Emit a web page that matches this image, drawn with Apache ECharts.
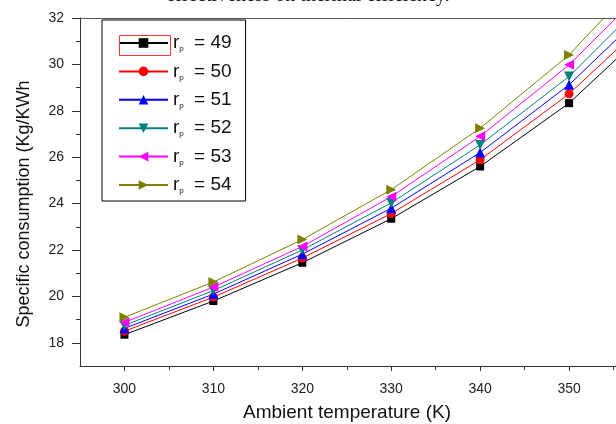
<!DOCTYPE html>
<html>
<head>
<meta charset="utf-8">
<script src="https://cdn.jsdelivr.net/npm/echarts@6/dist/echarts.min.js"></script>
<style>
html,body{margin:0;padding:0;background:#fff;overflow:hidden;}
#c{width:616px;height:424px;}
</style>
</head>
<body>
<div id="c"></div>
<script>
// Ambient temperature (K)
var temps = [300, 310, 320, 330, 340, 350, 360];
// Specific consumption (Kg/KWh) per pressure ratio r_p
var rp49 = [18.35, 19.80, 21.45, 23.35, 25.60, 28.33, 31.9];
var rp50 = [18.50, 19.97, 21.65, 23.57, 25.89, 28.73, 32.3];
var rp51 = [18.62, 20.10, 21.82, 23.80, 26.20, 29.12, 32.8];
var rp52 = [18.75, 20.25, 22.00, 24.03, 26.53, 29.48, 33.3];
var rp53 = [18.88, 20.40, 22.15, 24.30, 26.90, 29.98, 33.8];
var rp54 = [19.10, 20.62, 22.45, 24.60, 27.25, 30.41, 34.5];
var rpLabels = ['49', '50', '51', '52', '53', '54'];
var xMajor = [300, 310, 320, 330, 340, 350, 360];
var xMinor = [305, 315, 325, 335, 345, 355];
var yMajor = [18, 20, 22, 24, 26, 28, 30, 32];
var yMinor = [19, 21, 23, 25, 27, 29, 31];

var seriesData = [rp49, rp50, rp51, rp52, rp53, rp54];
var colors = ['#000000', '#ff0000', '#0000ff', '#008080', '#ff00ff', '#808000'];
var symbols = ['rect', 'circle', 'triangle', 'triangle', 'triangle', 'triangle'];
var rotates = [0, 0, 0, 180, 90, -90];
var sizes = [8, 9, 10, 10, 10, 10];

var chart = echarts.init(document.getElementById('c'), null, {renderer: 'canvas'});
var axisCol = '#333';
var series = seriesData.map(function (vals, i) {
  return {
    name: 'rp = ' + rpLabels[i],
    type: 'line',
    xAxisIndex: 0,
    yAxisIndex: 0,
    data: temps.map(function (t, j) { return [t, vals[j]]; }),
    symbol: symbols[i],
    symbolRotate: rotates[i],
    symbolSize: sizes[i],
    showAllSymbol: true,
    clip: true,
    lineStyle: {color: colors[i], width: 1},
    itemStyle: {color: colors[i]},
    emphasis: {disabled: true},
    animation: false
  };
});

chart.setOption({
  animation: false,
  textStyle: {fontFamily: 'Liberation Sans, Arial, sans-serif'},
  title: {
    text: 'effectiveness on thermal efficiency.',
    left: 'center',
    top: -14,
    padding: 0,
    textStyle: {fontFamily: 'Liberation Serif, serif', fontSize: 20, fontWeight: 'normal', color: '#111'}
  },
  grid: {left: 80, top: 18, width: 578, bottom: 58, containLabel: false, outerBoundsMode: 'none'},
  legend: {
    left: 102, top: 20,
    orient: 'vertical',
    backgroundColor: '#fff',
    borderColor: '#000', borderWidth: 1,
    padding: [13, 14, 6, 16],
    itemWidth: 49, itemHeight: 12,
    itemGap: 8.4,
    data: series.map(function (s) { return s.name; }),
    formatter: function (name) {
      return 'r{sub|p} = ' + name.split('= ')[1];
    },
    textStyle: {
      fontSize: 19, color: '#111', lineHeight: 20,
      rich: {sub: {fontSize: 8, verticalAlign: 'bottom', padding: [12, 5, 0, 0], color: '#111', lineHeight: 20}}
    }
  },
  xAxis: [
    {
      type: 'value', position: 'bottom', min: 295, max: 360,
      name: 'Ambient temperature (K)', nameLocation: 'middle', nameGap: 37,
      nameTextStyle: {fontSize: 19, color: '#111', padding: [0, 44, 0, 0]},
      axisLine: {show: true, onZero: false, lineStyle: {color: axisCol, width: 1}},
      axisTick: {show: true, inside: false, length: 5, customValues: xMajor, lineStyle: {color: axisCol}},
      axisLabel: {show: true, customValues: xMajor, margin: 16, fontSize: 14, color: '#222'},
      splitLine: {show: false}
    },
    {
      type: 'value', position: 'bottom', min: 295, max: 360,
      axisLine: {show: false, onZero: false},
      axisTick: {show: true, inside: false, length: 4, customValues: xMinor, lineStyle: {color: axisCol}},
      axisLabel: {show: false},
      splitLine: {show: false}
    },
    {
      type: 'value', position: 'top', min: 295, max: 360,
      axisLine: {show: true, onZero: false, lineStyle: {color: '#555', width: 1}},
      axisTick: {show: false},
      axisLabel: {show: false},
      splitLine: {show: false}
    }
  ],
  yAxis: [
    {
      type: 'value', position: 'left', min: 17, max: 32,
      name: 'Specific consumption (Kg/KWh', nameLocation: 'middle', nameGap: 47,
      nameTextStyle: {fontSize: 18, color: '#111', padding: [0, 24, 0, 0]},
      axisLine: {show: true, onZero: false, lineStyle: {color: axisCol, width: 1}},
      axisTick: {show: true, inside: false, length: 8, customValues: yMajor, lineStyle: {color: axisCol}},
      axisLabel: {show: true, customValues: yMajor, margin: 16, fontSize: 14, color: '#222'},
      splitLine: {show: false}
    },
    {
      type: 'value', position: 'left', min: 17, max: 32,
      axisLine: {show: false, onZero: false},
      axisTick: {show: true, inside: false, length: 4, customValues: yMinor, lineStyle: {color: axisCol}},
      axisLabel: {show: false},
      splitLine: {show: false}
    }
  ],
  graphic: [{
    type: 'rect', left: 117, top: 33, z: 100,
    shape: {width: 51, height: 20},
    style: {fill: 'none', stroke: '#ff3333', lineWidth: 1}
  }],
  series: series
});
</script>
</body>
</html>
